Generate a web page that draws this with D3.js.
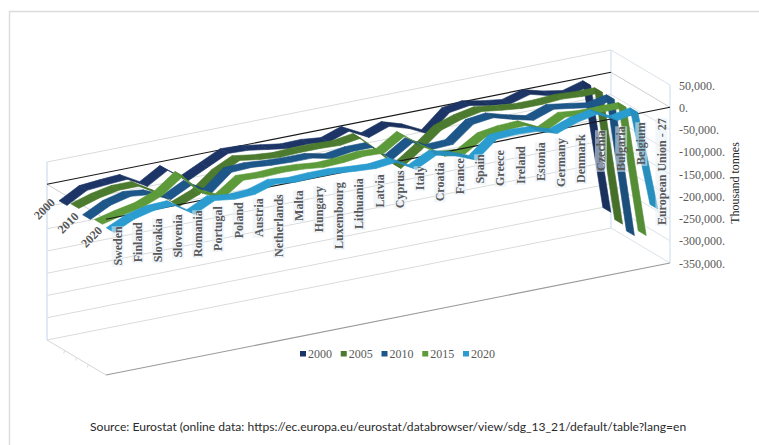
<!DOCTYPE html>
<html>
<head>
<meta charset="utf-8">
<title>Net greenhouse gas removals by country</title>
<script src="https://cdn.jsdelivr.net/npm/d3@7/dist/d3.min.js"></script>
<style>
  html, body { margin: 0; padding: 0; background: #fff; }
  svg { display: block; }
  text { font-family: "Liberation Serif", serif; }
</style>
</head>
<body>
<svg id="chart" width="759" height="445"></svg>
<script>
const categories = ["Sweden","Finland","Slovakia","Slovenia","Romania","Portugal","Poland","Austria","Netherlands","Malta","Hungary","Luxembourg","Lithuania","Latvia","Cyprus","Italy","Croatia","France","Spain","Greece","Ireland","Estonia","Germany","Denmark","Czechia","Bulgaria","Belgium","European Union - 27"];
const years = ["2000","2005","2010","2015","2020"];
const depthLabels = ["2000","2010","2020"];
const valueTicks = [50000,0,-50000,-100000,-150000,-200000,-250000,-300000,-350000];
const seriesColors = ["#1c3566","#4c7a2e","#1d5688","#5c9a3a","#2a9ccf"];

// Thousand tonnes per country
const values2000 = [-39000,-14000,-10000,-7000,-32000,-5000,-38000,-16000,6000,4000,-3000,-10000,-9000,-14000,2000,-21000,-5000,-19000,-41000,-1000,6000,-3000,-9000,4000,-8000,-16000,-3000,-297000];
const values2005 = [-30000,-16000,-7000,-7000,-34000,-70000,-52000,-16000,6000,-1000,-5000,-3000,-3000,-5000,2000,-39000,-84000,-52000,-16000,-1000,8000,2000,-3000,-3000,0,-3000,-3000,-308000];
const values2010 = [-39000,-16000,-5000,-10000,-30000,-7000,-34000,4000,6000,2000,0,0,-10000,-3000,-3000,-39000,-10000,-34000,-32000,4000,10000,-3000,-14000,2000,-5000,-12000,-3000,-318000];
const values2015 = [-34000,-23000,-14000,4000,38000,-10000,-30000,2000,0,2000,0,-5000,-3000,2000,0,29000,-5000,-34000,-38000,-10000,-3000,-1000,-23000,0,-5000,-5000,-5000,-302000];
const values2020 = [-37000,-16000,-5000,-3000,-32000,-10000,-16000,-14000,0,-5000,-3000,-3000,-7000,-10000,-5000,-30000,-7000,-18000,-36000,2000,4000,2000,-12000,4000,13000,-10000,-1000,-227000];
const allSeries = [values2000, values2005, values2010, values2015, values2020];

const legendYears = years;
const sourceNote = "Source: Eurostat (online data: https://ec.europa.eu/eurostat/databrowser/view/sdg_13_21/default/table?lang=en";

const svg = d3.select("#chart");

// Oblique projection of the box: along the categories, into the depth, up the values
const alongX = d3.scaleLinear().domain([0, 1]).range([47, 611]);
const alongY = d3.scaleLinear().domain([0, 1]).range([340, 228]);
const depthX = d3.scaleLinear().domain([0, 1]).range([0, 59]);
const depthY = d3.scaleLinear().domain([0, 1]).range([0, 35]);
const valueY = d3.scaleLinear().domain([-350000, 50000]).range([0, -178]);

const catScale = d3.scaleBand().domain(categories).range([0, 1]);
const yearScale = d3.scaleBand().domain(years).range([0, 1]);
const ribbonDepth = 0.135;

function project(u, d, v) {
  return [alongX(u) + depthX(d), alongY(u) + depthY(d) + valueY(v)];
}
const poly = pts => pts.map(p => p.join(",")).join(" ");
const line = (g, a, b, color, w) => g.append("line")
  .attr("x1", a[0]).attr("y1", a[1]).attr("x2", b[0]).attr("y2", b[1])
  .attr("stroke", color).attr("stroke-width", w);

// Outer frame of the figure: top and left rules only
svg.append("path").attr("d", "M9.5,445V11.5H759").attr("fill", "none")
  .attr("stroke", "#dcdcdc").attr("stroke-width", 1.4);

// Walls and floor of the box
const walls = svg.append("g");
valueTicks.filter(v => v !== 0).forEach(v => {
  line(walls, project(0, 0, v), project(1, 0, v), "#d9dcdc", 1);
  line(walls, project(1, 0, v), project(1, 1, v), "#dbe3ea", 1);
});
line(walls, project(0, 0, 50000), project(0, 0, -350000), "#d3e1f0", 1.4);
line(walls, project(1, 0, 50000), project(1, 0, -350000), "#d3e1f0", 1.2);
line(walls, project(1, 1, 50000), project(1, 1, -350000), "#d3e1f0", 1.2);
line(walls, project(0, 0, -350000), project(0, 1, -350000), "#d6d6d6", 1);
line(walls, project(0, 1, -350000), project(1, 1, -350000), "#9a9a9a", 1.1);
line(walls, project(0, 0, 0), project(0, 1, 0), "#cfcfcf", 1);
line(walls, project(1, 0, 0), project(1, 1, 0), "#cfcfcf", 1);
// Short depth ticks along the floor edge
[0.3, 0.5, 0.7].forEach(d => {
  const p = project(0, d, -350000);
  line(walls, p, [p[0] - 1, p[1] + 3], "#dcdcdc", 1);
});

// Zero plane edge at the back
line(walls, project(0, 0, 0), project(1, 0, 0), "#1a1a1a", 1.2);

// One flat ribbon per year, built segment by segment
const ribbons = svg.append("g");
years.forEach((year, s) => {
  const d0 = yearScale(year) + yearScale.bandwidth() / 2;
  const back = d0 - ribbonDepth / 2, front = d0 + ribbonDepth / 2;
  const vals = allSeries[s];
  const g = ribbons.append("g").attr("class", "ribbon-" + year);
  const u = c => catScale(c) + catScale.bandwidth() / 2;

  if (year === "2020") {
    line(g, project(0, 1, 0), project(1, 1, 0), "#1a1a1a", 1.2);
  }
  d3.pairs(categories.map((c, i) => ({ u: u(c), v: vals[i] }))).forEach(([a, b]) => {
    const falling = project(b.u, d0, b.v)[1] > project(a.u, d0, a.v)[1];
    const shade = d3.color(seriesColors[s]);
    const fill = falling ? shade.darker(0.25) : shade;
    g.append("polygon")
      .attr("points", poly([
        project(a.u, back, a.v), project(b.u, back, b.v),
        project(b.u, front, b.v), project(a.u, front, a.v)
      ]))
      .attr("fill", fill.formatHex())
      .attr("stroke", fill.formatHex())
      .attr("stroke-width", 0.6)
      .attr("stroke-linejoin", "round");
  });
});

// Category labels hang from the front of the zero plane
const catLabels = svg.append("g");
categories.forEach((c, i) => {
  const u = catScale(c) + catScale.bandwidth() / 2;
  const p = project(u, 1, 0);
  const x = p[0] + 1.5, y = p[1] + 9;
  const t = catLabels.append("text")
    .attr("transform", `translate(${x},${y}) rotate(-90)`)
    .attr("text-anchor", "end")
    .attr("dy", "0.34em")
    .attr("font-size", 12)
    .attr("font-weight", "bold")
    .attr("fill", "#595959")
    .text(c);
  const len = t.node().getComputedTextLength();
  catLabels.insert("rect", "text")
    .attr("x", x - 6).attr("y", y - 0).attr("width", 12).attr("height", len + 1)
    .attr("fill", "#e6eff7").attr("opacity", 0.55);
});

// Depth axis labels
depthLabels.forEach(year => {
  const d0 = yearScale(year) + yearScale.bandwidth() / 2;
  const p = project(0, d0, 0);
  svg.append("text")
    .attr("transform", `translate(${p[0] - 8.5},${p[1] + 21}) rotate(-45)`)
    .attr("text-anchor", "middle").attr("dy", "0.34em")
    .attr("font-size", 12).attr("font-weight", "bold").attr("fill", "#555")
    .text(year);
});

// Value axis along the right-hand front edge
const fmt = d3.format(",");
valueTicks.forEach(v => {
  const p = project(1, 1, v);
  svg.append("text")
    .attr("x", 679).attr("y", p[1] + 0.5).attr("dy", "0.34em")
    .attr("font-size", 12).attr("fill", "#595959")
    .text(fmt(v).replace("−", "-") + ".");
});
svg.append("text")
  .attr("transform", "translate(735,183) rotate(-90)")
  .attr("text-anchor", "middle").attr("dy", "0.34em")
  .attr("font-size", 12).attr("fill", "#222")
  .text("Thousand tonnes");

// Legend
const legendX = d3.scalePoint().domain(legendYears).range([300, 463]);
legendYears.forEach((y, i) => {
  svg.append("rect").attr("x", legendX(y)).attr("y", 351).attr("width", 6).attr("height", 5.5)
    .attr("fill", seriesColors[i]);
  svg.append("text").attr("x", legendX(y) + 8).attr("y", 354).attr("dy", "0.34em")
    .attr("font-size", 12).attr("fill", "#595959").text(y);
});

// Source note
svg.append("text")
  .attr("x", 90).attr("y", 431)
  .style("font-family", "Lato, sans-serif")
  .attr("font-size", 12.1).attr("fill", "#2a2a2a")
  .text(sourceNote);
</script>
</body>
</html>
